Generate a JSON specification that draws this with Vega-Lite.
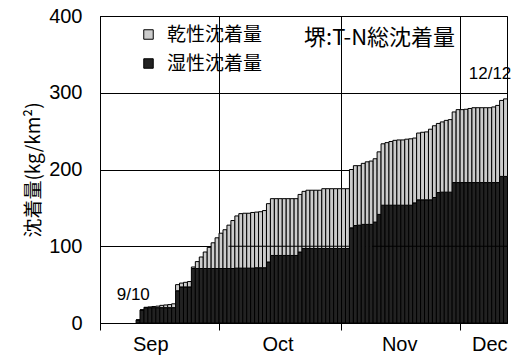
{
  "$schema": "https://vega.github.io/schema/vega-lite/v6.json",
  "width": 407,
  "height": 307,
  "autosize": {"type": "none"},
  "padding": {"left": 100, "top": 16, "right": 11, "bottom": 33},
  "config": {
    "view": {"stroke": "black", "strokeWidth": 1},
    "font": "Liberation Sans",
    "axis": {"labelColor": "black", "domainColor": "black", "tickColor": "black", "gridColor": "black", "gridOpacity": 1, "gridWidth": 1, "domainWidth": 1}
  },
  "resolve": {"axis": {"x": "independent", "y": "independent"}},
  "layer": [
    {
      "data": {"values": [
        {"d": "2009-09-10", "湿性沈着量": 4, "乾性沈着量": 0},
        {"d": "2009-09-11", "湿性沈着量": 17, "乾性沈着量": 0},
        {"d": "2009-09-12", "湿性沈着量": 20, "乾性沈着量": 0.5},
        {"d": "2009-09-13", "湿性沈着量": 20, "乾性沈着量": 1},
        {"d": "2009-09-14", "湿性沈着量": 20, "乾性沈着量": 1.5},
        {"d": "2009-09-15", "湿性沈着量": 20, "乾性沈着量": 2},
        {"d": "2009-09-16", "湿性沈着量": 20, "乾性沈着量": 3},
        {"d": "2009-09-17", "湿性沈着量": 20, "乾性沈着量": 3.5},
        {"d": "2009-09-18", "湿性沈着量": 20, "乾性沈着量": 4},
        {"d": "2009-09-19", "湿性沈着量": 20, "乾性沈着量": 5},
        {"d": "2009-09-20", "湿性沈着量": 42, "乾性沈着量": 8},
        {"d": "2009-09-21", "湿性沈着量": 47, "乾性沈着量": 5},
        {"d": "2009-09-22", "湿性沈着量": 47, "乾性沈着量": 6},
        {"d": "2009-09-23", "湿性沈着量": 47, "乾性沈着量": 7},
        {"d": "2009-09-24", "湿性沈着量": 71, "乾性沈着量": 2},
        {"d": "2009-09-25", "湿性沈着量": 71, "乾性沈着量": 9},
        {"d": "2009-09-26", "湿性沈着量": 71, "乾性沈着量": 15},
        {"d": "2009-09-27", "湿性沈着量": 71, "乾性沈着量": 21.5},
        {"d": "2009-09-28", "湿性沈着量": 71, "乾性沈着量": 27.5},
        {"d": "2009-09-29", "湿性沈着量": 71, "乾性沈着量": 33.5},
        {"d": "2009-09-30", "湿性沈着量": 71, "乾性沈着量": 40},
        {"d": "2009-10-01", "湿性沈着量": 71, "乾性沈着量": 46},
        {"d": "2009-10-02", "湿性沈着量": 71, "乾性沈着量": 50.5},
        {"d": "2009-10-03", "湿性沈着量": 71, "乾性沈着量": 56.5},
        {"d": "2009-10-04", "湿性沈着量": 71, "乾性沈着量": 62.5},
        {"d": "2009-10-05", "湿性沈着量": 71.5, "乾性沈着量": 68},
        {"d": "2009-10-06", "湿性沈着量": 71.5, "乾性沈着量": 71},
        {"d": "2009-10-07", "湿性沈着量": 71.5, "乾性沈着量": 71.5},
        {"d": "2009-10-08", "湿性沈着量": 71.5, "乾性沈着量": 71.5},
        {"d": "2009-10-09", "湿性沈着量": 71.5, "乾性沈着量": 72.5},
        {"d": "2009-10-10", "湿性沈着量": 72, "乾性沈着量": 72.5},
        {"d": "2009-10-11", "湿性沈着量": 72, "乾性沈着量": 73},
        {"d": "2009-10-12", "湿性沈着量": 72, "乾性沈着量": 74.5},
        {"d": "2009-10-13", "湿性沈着量": 79.5, "乾性沈着量": 76},
        {"d": "2009-10-14", "湿性沈着量": 88, "乾性沈着量": 74},
        {"d": "2009-10-15", "湿性沈着量": 88, "乾性沈着量": 74},
        {"d": "2009-10-16", "湿性沈着量": 88, "乾性沈着量": 74},
        {"d": "2009-10-17", "湿性沈着量": 88, "乾性沈着量": 74},
        {"d": "2009-10-18", "湿性沈着量": 88, "乾性沈着量": 74},
        {"d": "2009-10-19", "湿性沈着量": 88, "乾性沈着量": 74},
        {"d": "2009-10-20", "湿性沈着量": 88, "乾性沈着量": 74},
        {"d": "2009-10-21", "湿性沈着量": 92.5, "乾性沈着量": 75},
        {"d": "2009-10-22", "湿性沈着量": 97, "乾性沈着量": 74.5},
        {"d": "2009-10-23", "湿性沈着量": 97, "乾性沈着量": 76},
        {"d": "2009-10-24", "湿性沈着量": 97, "乾性沈着量": 76},
        {"d": "2009-10-25", "湿性沈着量": 97, "乾性沈着量": 76},
        {"d": "2009-10-26", "湿性沈着量": 97, "乾性沈着量": 76},
        {"d": "2009-10-27", "湿性沈着量": 97, "乾性沈着量": 78},
        {"d": "2009-10-28", "湿性沈着量": 97, "乾性沈着量": 78},
        {"d": "2009-10-29", "湿性沈着量": 97, "乾性沈着量": 78},
        {"d": "2009-10-30", "湿性沈着量": 97, "乾性沈着量": 78},
        {"d": "2009-10-31", "湿性沈着量": 97, "乾性沈着量": 78},
        {"d": "2009-11-01", "湿性沈着量": 97, "乾性沈着量": 78},
        {"d": "2009-11-02", "湿性沈着量": 97, "乾性沈着量": 78},
        {"d": "2009-11-03", "湿性沈着量": 124, "乾性沈着量": 76},
        {"d": "2009-11-04", "湿性沈着量": 127, "乾性沈着量": 78},
        {"d": "2009-11-05", "湿性沈着量": 127.5, "乾性沈着量": 77.5},
        {"d": "2009-11-06", "湿性沈着量": 128.5, "乾性沈着量": 79.5},
        {"d": "2009-11-07", "湿性沈着量": 128.5, "乾性沈着量": 81.5},
        {"d": "2009-11-08", "湿性沈着量": 128.5, "乾性沈着量": 82.5},
        {"d": "2009-11-09", "湿性沈着量": 131.5, "乾性沈着量": 82.5},
        {"d": "2009-11-10", "湿性沈着量": 141.5, "乾性沈着量": 81.5},
        {"d": "2009-11-11", "湿性沈着量": 153.5, "乾性沈着量": 80},
        {"d": "2009-11-12", "湿性沈着量": 153.5, "乾性沈着量": 81.5},
        {"d": "2009-11-13", "湿性沈着量": 153.5, "乾性沈着量": 83},
        {"d": "2009-11-14", "湿性沈着量": 153.5, "乾性沈着量": 84.5},
        {"d": "2009-11-15", "湿性沈着量": 153.5, "乾性沈着量": 85},
        {"d": "2009-11-16", "湿性沈着量": 153.5, "乾性沈着量": 85},
        {"d": "2009-11-17", "湿性沈着量": 153.5, "乾性沈着量": 86},
        {"d": "2009-11-18", "湿性沈着量": 153.5, "乾性沈着量": 86.5},
        {"d": "2009-11-19", "湿性沈着量": 156.5, "乾性沈着量": 84.5},
        {"d": "2009-11-20", "湿性沈着量": 160.5, "乾性沈着量": 87},
        {"d": "2009-11-21", "湿性沈着量": 160.5, "乾性沈着量": 88},
        {"d": "2009-11-22", "湿性沈着量": 160.5, "乾性沈着量": 88.5},
        {"d": "2009-11-23", "湿性沈着量": 160.5, "乾性沈着量": 92},
        {"d": "2009-11-24", "湿性沈着量": 163.5, "乾性沈着量": 93.5},
        {"d": "2009-11-25", "湿性沈着量": 170, "乾性沈着量": 90},
        {"d": "2009-11-26", "湿性沈着量": 170.5, "乾性沈着量": 91.5},
        {"d": "2009-11-27", "湿性沈着量": 170.5, "乾性沈着量": 93.5},
        {"d": "2009-11-28", "湿性沈着量": 170.5, "乾性沈着量": 94.5},
        {"d": "2009-11-29", "湿性沈着量": 183, "乾性沈着量": 92},
        {"d": "2009-11-30", "湿性沈着量": 183, "乾性沈着量": 95},
        {"d": "2009-12-01", "湿性沈着量": 183, "乾性沈着量": 95},
        {"d": "2009-12-02", "湿性沈着量": 183, "乾性沈着量": 95.5},
        {"d": "2009-12-03", "湿性沈着量": 183, "乾性沈着量": 96.5},
        {"d": "2009-12-04", "湿性沈着量": 183, "乾性沈着量": 97.5},
        {"d": "2009-12-05", "湿性沈着量": 183, "乾性沈着量": 97.5},
        {"d": "2009-12-06", "湿性沈着量": 183, "乾性沈着量": 97.5},
        {"d": "2009-12-07", "湿性沈着量": 183, "乾性沈着量": 97.5},
        {"d": "2009-12-08", "湿性沈着量": 183, "乾性沈着量": 97.5},
        {"d": "2009-12-09", "湿性沈着量": 183, "乾性沈着量": 98.5},
        {"d": "2009-12-10", "湿性沈着量": 183, "乾性沈着量": 100.5},
        {"d": "2009-12-11", "湿性沈着量": 191, "乾性沈着量": 99},
        {"d": "2009-12-12", "湿性沈着量": 191, "乾性沈着量": 101}
      ]},
      "transform": [{"fold": ["湿性沈着量", "乾性沈着量"], "as": ["type", "value"]}],
      "mark": {"type": "bar", "stroke": "black", "strokeWidth": 1, "binSpacing": 0},
      "encoding": {
        "x": {
          "field": "d", "timeUnit": "utcyearmonthdate", "type": "temporal",
          "scale": {"type": "utc", "domain": [{"year": 2009, "month": 9, "date": 1, "utc": true}, {"year": 2009, "month": 12, "date": 13, "utc": true}]},
          "axis": {
            "orient": "bottom", "title": null, "labels": false, "ticks": true, "tickSize": 7, "grid": true,
            "values": [
              {"year": 2009, "month": 9, "date": 1, "utc": true},
              {"year": 2009, "month": 10, "date": 1, "utc": true},
              {"year": 2009, "month": 11, "date": 1, "utc": true},
              {"year": 2009, "month": 12, "date": 1, "utc": true}
            ]
          }
        },
        "y": {
          "field": "value", "type": "quantitative", "stack": "zero",
          "scale": {"domain": [0, 400], "nice": false},
          "axis": {
            "values": [0, 100, 200, 300, 400], "ticks": false, "tickSize": 0, "labelPadding": 18,
            "labelFontSize": 20, "labelFont": "Liberation Sans", "grid": true,
            "title": "沈着量(kg/km²)", "titleFont": "Noto Sans CJK JP", "titleFontSize": 19,
            "titleFontWeight": "normal", "titleColor": "#000000", "titlePadding": 5
          }
        },
        "color": {
          "field": "type", "type": "nominal",
          "scale": {"domain": ["乾性沈着量", "湿性沈着量"], "range": ["#cccccc", "#222222"]},
          "legend": {
            "orient": "none", "legendX": 39, "legendY": 9, "title": null, "padding": 0,
            "symbolType": "square", "symbolSize": 90, "symbolStrokeColor": "black", "symbolStrokeWidth": 1,
            "labelFont": "Noto Sans CJK JP", "labelFontSize": 19, "labelColor": "black", "labelOffset": 9, "rowPadding": 9
          }
        },
        "order": {"field": "type", "sort": "descending"}
      }
    },
    {
      "data": {"values": [
        {"s": "2009-10-03T12:00:00Z", "e": "2009-11-03T00:00:00Z", "v": 100},
        {"s": "2009-11-08T21:00:00Z", "e": "2009-12-13T00:00:00Z", "v": 100}
      ]},
      "mark": {"type": "rule", "color": "black", "strokeWidth": 1},
      "encoding": {
        "x": {"field": "s", "type": "temporal", "scale": {"type": "utc", "domain": [{"year": 2009, "month": 9, "date": 1, "utc": true}, {"year": 2009, "month": 12, "date": 13, "utc": true}]}, "axis": null},
        "x2": {"field": "e"},
        "y": {"field": "v", "type": "quantitative", "scale": {"domain": [0, 400], "nice": false}, "axis": null}
      }
    },
    {
      "data": {"values": [
        {"label": "9/10", "d": "2009-09-09T10:00:00Z", "v": 37},
        {"label": "12/12", "d": "2009-12-08T17:00:00Z", "v": 325}
      ]},
      "mark": {"type": "text", "font": "Liberation Sans", "fontSize": 17, "color": "black", "align": "center", "baseline": "middle"},
      "encoding": {
        "x": {
          "field": "d", "type": "temporal",
          "scale": {"type": "utc", "domain": [{"year": 2009, "month": 9, "date": 1, "utc": true}, {"year": 2009, "month": 12, "date": 13, "utc": true}]},
          "axis": {
            "orient": "bottom", "title": null, "format": "%b", "ticks": false, "domain": false, "grid": false,
            "labelPadding": 11, "labelFontSize": 20, "labelFont": "Liberation Sans", "labelFlush": false, "labelOverlap": false,
            "values": [
              {"year": 2009, "month": 9, "date": 13, "hours": 17, "utc": true},
              {"year": 2009, "month": 10, "date": 15, "hours": 22, "utc": true},
              {"year": 2009, "month": 11, "date": 15, "hours": 17, "utc": true},
              {"year": 2009, "month": 12, "date": 8, "hours": 12, "utc": true}
            ]
          }
        },
        "y": {"field": "v", "type": "quantitative", "scale": {"domain": [0, 400], "nice": false}, "axis": null},
        "text": {"field": "label"}
      }
    },
    {
      "data": {"values": [
        {"label": "堺:T-N総沈着量", "d": "2009-11-10T18:00:00Z", "v": 371}
      ]},
      "mark": {"type": "text", "font": "Noto Sans CJK JP", "fontSize": 22, "color": "black", "align": "center", "baseline": "middle"},
      "encoding": {
        "x": {"field": "d", "type": "temporal", "scale": {"type": "utc", "domain": [{"year": 2009, "month": 9, "date": 1, "utc": true}, {"year": 2009, "month": 12, "date": 13, "utc": true}]}, "axis": null},
        "y": {"field": "v", "type": "quantitative", "scale": {"domain": [0, 400], "nice": false}, "axis": null},
        "text": {"field": "label"}
      }
    }
  ]
}
